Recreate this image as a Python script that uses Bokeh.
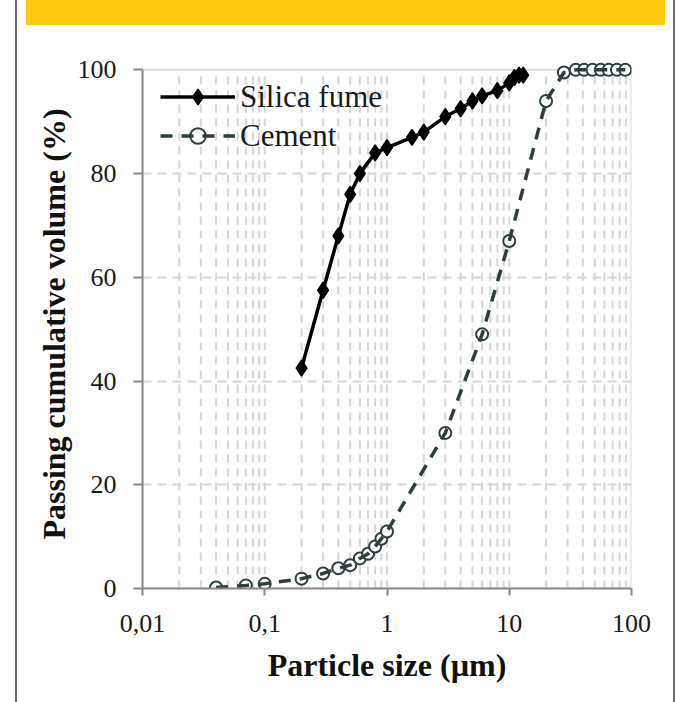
import numpy as np
from bokeh.plotting import figure
from bokeh.models import FixedTicker, BoxAnnotation, Legend, LegendItem, InlineStyleSheet
from bokeh.embed import file_html
from bokeh.resources import INLINE

# ---- data ----
sf_size = [0.2, 0.3, 0.4, 0.5, 0.6, 0.8, 1.0, 1.6, 2.0, 3.0, 4.0, 5.0, 6.0, 8.0, 10.0, 11.0, 12.0, 13.0]
sf_pass = [42.5, 57.5, 68.0, 76.0, 80.0, 84.0, 85.0, 87.0, 88.0, 91.0, 92.5, 94.0, 95.0, 96.0, 97.5, 98.5, 99.0, 99.0]

cem_size = [0.04, 0.07, 0.1, 0.2, 0.3, 0.4, 0.5, 0.6, 0.7, 0.8, 0.9, 1.0, 3.0, 6.0, 10.0, 20.0, 28.0,
            35.0, 41.0, 48.0, 56.0, 65.0, 76.0, 89.0]
cem_pass = [0.2, 0.6, 0.9, 1.9, 2.9, 3.9, 4.5, 5.8, 6.7, 8.1, 9.6, 11.0, 30.0, 49.0, 67.0, 94.0, 99.5,
            100.0, 100.0, 100.0, 100.0, 100.0, 100.0, 100.0]

x_ticks = [0.01, 0.1, 1, 10, 100]
x_tick_labels = ["0,01", "0,1", "1", "10", "100"]
x_minor = [m * d for d in [0.01, 0.1, 1, 10] for m in range(2, 10)]
y_ticks = [0, 20, 40, 60, 80, 100]
y_grid_ticks = [20, 40, 60, 80]

X_MIN, X_MAX = 0.01, 100
Y_MIN, Y_MAX = 0, 100

SERIF = "Liberation Serif"
GRID = "#d6d6d6"
AXIS = "#878787"
CEM = "#2e3d3d"

p = figure(width=676, height=702, x_axis_type="log",
           x_range=(X_MIN, X_MAX), y_range=(Y_MIN, 102),
           output_backend="svg", toolbar_location=None,
           min_border_left=142, min_border_right=45,
           min_border_top=59, min_border_bottom=114)
p.outline_line_color = None
p.background_fill_color = "white"
p.border_fill_color = "white"

# grids
p.xgrid.visible = False
p.ygrid.ticker = FixedTicker(ticks=y_grid_ticks)
p.ygrid.grid_line_color = GRID
p.ygrid.grid_line_width = 2
p.ygrid.grid_line_dash = "9 6"

grid_x = sorted(x_minor + [0.1, 1, 10])
p.segment(x0=grid_x, y0=[Y_MIN] * len(grid_x), x1=grid_x, y1=[Y_MAX] * len(grid_x),
          line_color=GRID, line_width=2, line_dash="8 6")

# frame box
p.add_layout(BoxAnnotation(left=X_MIN, right=X_MAX, bottom=Y_MIN, top=Y_MAX,
                           fill_alpha=0, line_color=AXIS, line_width=2, level="underlay"))

# axes
xa = p.xaxis[0]
xa.ticker = FixedTicker(ticks=x_ticks, minor_ticks=x_minor)
xa.major_label_overrides = dict(zip(x_ticks, x_tick_labels))
xa.axis_label = "Particle size (µm)"
ya = p.yaxis[0]
ya.ticker = FixedTicker(ticks=y_ticks)
ya.bounds = (Y_MIN, Y_MAX)
ya.axis_label = "Passing cumulative volume (%)"

for ax in (xa, ya):
    ax.axis_line_color = AXIS
    ax.axis_line_width = 2
    ax.major_tick_line_color = AXIS
    ax.major_tick_line_width = 2
    ax.major_tick_in = 0
    ax.minor_tick_in = 0
    ax.minor_tick_out = 0
    ax.major_label_text_font = SERIF
    ax.major_label_text_font_size = "26px"
    ax.major_label_text_color = "#1a1a1a"
    ax.axis_label_text_font = SERIF
    ax.axis_label_text_font_style = "bold"
    ax.axis_label_text_font_size = "32px"
    ax.axis_label_text_color = "#111111"

xa.major_tick_out = 7
xa.major_label_standoff = 19
xa.axis_label_standoff = 12
ya.major_tick_out = 9
ya.major_label_standoff = 17
ya.axis_label_standoff = 3

# series
sf_line = p.line(sf_size, sf_pass, line_color="black", line_width=3.5)
sf_pts = p.scatter(sf_size, sf_pass, marker="diamond", size=16,
                   fill_color="black", line_color="black", line_width=1.5)
cem_pts = p.scatter(cem_size, cem_pass, marker="circle", size=12,
                    fill_color="white", line_color=CEM, line_width=2)
cem_line = p.line(cem_size, cem_pass, line_color=CEM, line_width=3.5, line_dash="12 9")

legend = Legend(items=[LegendItem(label="Silica fume", renderers=[sf_line, sf_pts]),
                       LegendItem(label="Cement", renderers=[cem_pts, cem_line])],
                location=(18, 433), glyph_width=75, glyph_height=39, label_height=39,
                spacing=0, padding=0, margin=0, label_standoff=5,
                label_text_font=SERIF, label_text_font_size="31px", label_text_color="#1a1a1a",
                background_fill_alpha=0, border_line_color=None)
p.add_layout(legend)

# page decoration: yellow band on top and thin grey side rules
p.stylesheets = [InlineStyleSheet(css="""
:host::before { content: ""; position: absolute; left: 26px; top: 0px; width: 639px; height: 25px;
                background: #FFC90E; z-index: 50; pointer-events: none; }
:host::after  { content: ""; position: absolute; left: 15px; top: 0px; width: 2px; height: 702px;
                background: #6e6e6e; box-shadow: 658px 0 0 0 #6e6e6e; z-index: 50; pointer-events: none; }
""")]

open("out.html", "w").write(file_html(p, INLINE))
